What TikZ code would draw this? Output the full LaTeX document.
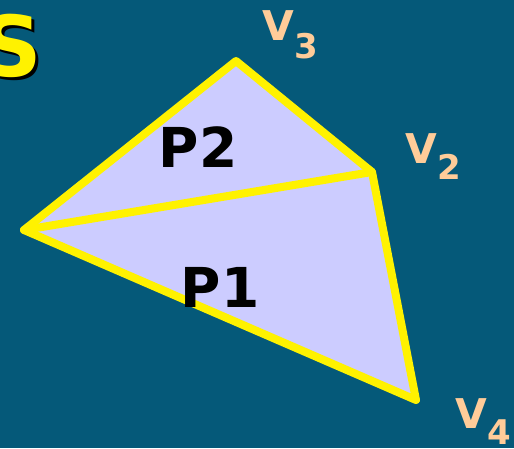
\documentclass[tikz,border=0pt]{standalone}
\usepackage{fontspec}
\setmainfont{DejaVu Sans}
\usetikzlibrary{positioning,calc}

\definecolor{bgteal}{RGB}{5,89,121}
\definecolor{lavender}{RGB}{204,204,255}
\definecolor{peach}{RGB}{255,204,153}

\tikzset{
  vlabel/.style={text=peach,font=\bfseries\fontsize{41}{41}\selectfont,inner sep=0pt,anchor=base west},
  plabel/.style={font=\bfseries\fontsize{55}{55}\selectfont,inner sep=0pt},
  edge/.style={draw=yellow,line width=8pt,line join=round,line cap=round}
}

\begin{document}
\begin{tikzpicture}[x=1pt,y=-1pt]
\useasboundingbox (0,0) rectangle (514,448);
\clip (0,0) rectangle (514,448);
\fill[bgteal] (0,0) rectangle (514,448);

% title letter, cut off at the left edge
\node[font=\bfseries\fontsize{84}{84}\selectfont,text=black,inner sep=0pt,anchor=base west] (sshadow) at (-16,79) {S};
\node[font=\bfseries\fontsize{84}{84}\selectfont,text=yellow,inner sep=0pt,anchor=base west] (stitle) at (-19,76) {S};

% vertices
\coordinate (a) at (24,230);
\coordinate (v3) at (236,61);
\coordinate (v2) at (372,172);
\coordinate (v4) at (416,400);

% the two polygons
\fill[lavender] (a) -- (v3) -- (v2) -- (v4) -- cycle;
\draw[edge] (a) -- (v3) -- (v2) -- (v4) -- cycle;
\draw[edge] (a) -- (v2);

\node[plabel] (p2) at (198,147) {P2};
\node[plabel] (p1) at (220,287) {P1};

% vertex names
\node[vlabel] (v3lab) at (262,40) {V\hspace{1pt}\raisebox{-18pt}{\fontsize{34}{34}\selectfont 3}};
\node[vlabel] (v2lab) at (405,163) {V\hspace{1pt}\raisebox{-16pt}{\fontsize{34}{34}\selectfont 2}};
\node[vlabel] (v4lab) at (455,428) {V\hspace{1pt}\raisebox{-16pt}{\fontsize{34}{34}\selectfont 4}};
\end{tikzpicture}
\end{document}
